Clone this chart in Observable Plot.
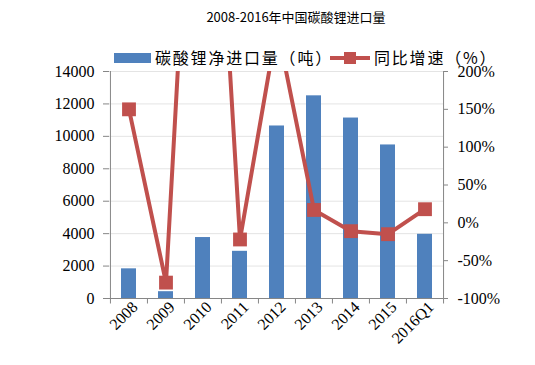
<!DOCTYPE html>
<html>
<head>
<meta charset="utf-8">
<script src="https://cdn.jsdelivr.net/npm/d3@7"></script>
<script src="https://cdn.jsdelivr.net/npm/@observablehq/plot@0.6"></script>
<style>
  body { margin: 0; background: #fff; }
  #wrap { width: 535px; height: 365px; position: relative; overflow: hidden; }
  #title { height: 34px; line-height: 34px; text-align: center; padding-left: 57px; box-sizing: border-box;
           font-family: "Noto Sans CJK SC", sans-serif; font-size: 13px; color: #000; }
  #legend { height: 30px; position: relative; font-family: "Noto Sans CJK SC", serif; font-size: 16px; color: #000; }
  #legend .t { position: absolute; top: 13px; line-height: 20px; letter-spacing: 1.8px; white-space: nowrap; }
  svg { overflow: visible; display: block; }
</style>
</head>
<body>
<div id="wrap">
  <div id="title"></div>
  <div id="legend">
    <div style="position:absolute;left:114px;top:19px;width:37px;height:10px;background:#4f81bd"></div>
    <div class="t" id="lg1" style="left:155px"></div>
    <div style="position:absolute;left:330px;top:22px;width:40px;height:4px;background:#c0504d"></div>
    <div style="position:absolute;left:344px;top:18px;width:12px;height:12px;background:#c0504d"></div>
    <div class="t" id="lg2" style="left:374px"></div>
  </div>
  <div id="chart"></div>
</div>
<script>
const title = "2008-2016年中国碳酸锂进口量";
const seriesNames = ["碳酸锂净进口量（吨）", "同比增速（%）"];
const cats = ["2008", "2009", "2010", "2011", "2012", "2013", "2014", "2015", "2016Q1"];
const imports = [1830, 420, 3760, 2910, 10640, 12500, 11130, 9470, 3960];
const growth = [150, -79, 800, -22, 260, 17, -11, -15, 18];
const leftTicks = [0, 2000, 4000, 6000, 8000, 10000, 12000, 14000];
const rightTicks = [-100, -50, 0, 50, 100, 150, 200];

document.getElementById("title").textContent = title;
document.getElementById("lg1").textContent = seriesNames[0];
document.getElementById("lg2").textContent = seriesNames[1];

const yMax = 14000, pMin = -100, pMax = 200;
const toLeft = p => (p - pMin) / (pMax - pMin) * yMax;
const toPct = v => Math.round(v / yMax * (pMax - pMin) + pMin);

const data = cats.map((c, i) => ({cat: c, val: imports[i], pct: growth[i], py: toLeft(growth[i])}));

const W = 535, H = 301, mL = 109, mR = 92, mT = 7, mB = 67;
const halfBand = (W - mL - mR) / cats.length / 2;
const axisColor = "#868686";
const red = "#c0504d";

const chart = Plot.plot({
  width: W, height: H,
  marginLeft: mL, marginRight: mR, marginTop: mT, marginBottom: mB,
  style: {fontFamily: "'Liberation Serif', serif", fontSize: "16px", color: "#000", background: "transparent"},
  x: {domain: cats, padding: 0, axis: null, label: null},
  y: {domain: [0, yMax], axis: null, label: null},
  marks: [
    Plot.gridY(leftTicks, {stroke: "#e4e4e4", strokeOpacity: 1}),
    Plot.barY(data, {x: "cat", y: "val", fill: "#4f81bd", insetLeft: 11, insetRight: 11}),
    Plot.ruleY([0], {stroke: axisColor}),
    Plot.ruleX(cats, {x: d => d, y1: 0, y2: -340, dx: -halfBand, stroke: axisColor}),
    Plot.ruleX([cats[cats.length - 1]], {x: d => d, y1: 0, y2: -340, dx: halfBand, stroke: axisColor}),
    Plot.axisY(leftTicks, {anchor: "left", tickSize: 6, tickPadding: 9, stroke: axisColor, tickFormat: d => String(d), fontSize: 16, label: null}),
    Plot.ruleX([cats[0]], {x: d => d, dx: -halfBand, y1: 0, y2: yMax, stroke: axisColor}),
    Plot.axisY(rightTicks.map(toLeft), {anchor: "right", tickSize: 4, tickPadding: 10, stroke: axisColor, tickFormat: d => toPct(d) + "%", fontSize: 16, label: null}),
    Plot.ruleX([cats[cats.length - 1]], {x: d => d, dx: halfBand, y1: 0, y2: yMax, stroke: axisColor}),
    Plot.axisX({tickSize: 0, tickRotate: -45, tickPadding: 6, dx: 6, fontSize: 16, label: null}),
    Plot.line(data, {x: "cat", y: "py", stroke: red, strokeWidth: 4, clip: true}),
    Plot.dot(data, {x: "cat", y: "py", symbol: "square", r: 7.8, fill: red, stroke: "none", clip: true})
  ]
});
document.getElementById("chart").appendChild(chart);
</script>
</body>
</html>
